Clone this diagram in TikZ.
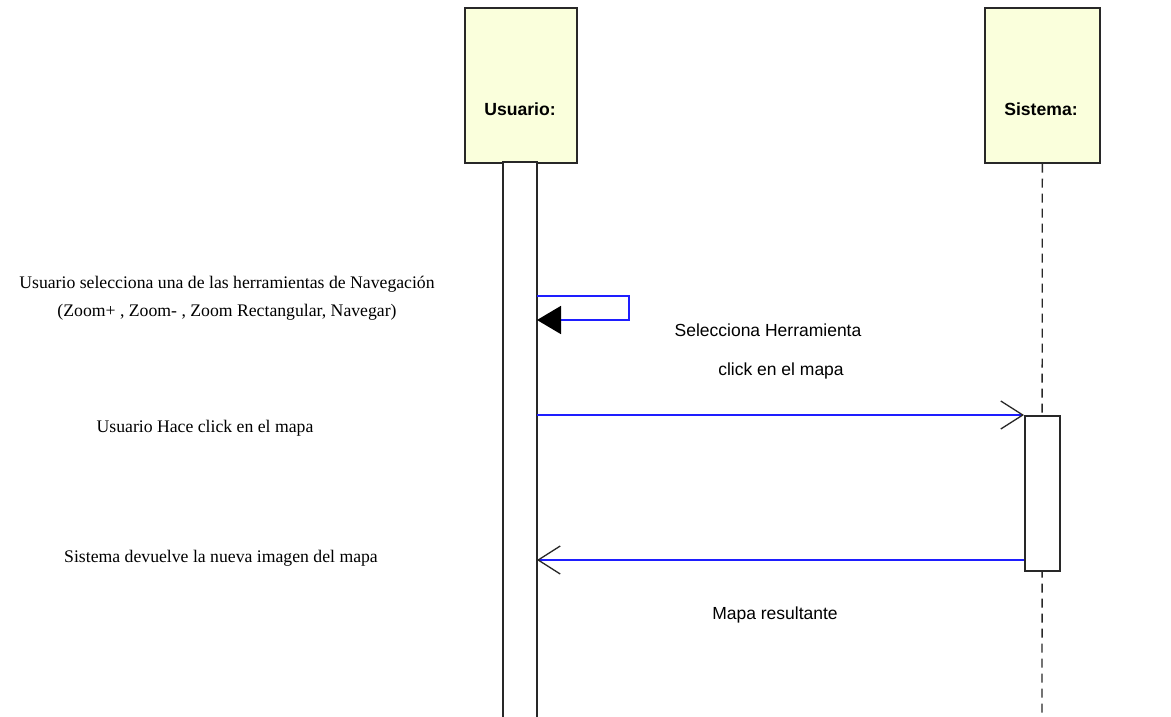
\documentclass[tikz,border=0pt]{standalone}
\usepackage{fontspec}
\setmainfont{Liberation Serif}
\setsansfont{Liberation Sans}
\usetikzlibrary{arrows.meta}
\definecolor{headfill}{RGB}{250,255,220}
\definecolor{msgblue}{RGB}{30,30,255}
\definecolor{edge}{RGB}{40,40,40}
\tikzset{
  x=1pt, y=-1pt,
  lifehead/.style={draw=edge, line width=1.6pt, fill=headfill, minimum width=112pt,
    minimum height=155pt, inner sep=0pt},
  headname/.style={font=\sffamily\bfseries\fontsize{17.6}{20}\selectfont, inner sep=0pt},
  lifeline/.style={draw=edge, line width=1.4pt, dash pattern=on 9pt off 6pt},
  actbar/.style={draw=edge, line width=1.6pt, fill=white},
  msg/.style={draw=msgblue, line width=1.8pt},
  open tip/.style={-{Straight Barb[length=22pt,width=28pt,line width=1.3pt,color=edge]}},
  solid tip/.style={-{Triangle[length=24pt,width=28pt,color=black]}},
  note/.style={font=\fontsize{17.7}{20}\selectfont, align=center, inner sep=0pt},
  label/.style={font=\sffamily\fontsize{17.5}{20}\selectfont, inner sep=0pt}
}
\begin{document}
\begin{tikzpicture}
\useasboundingbox (0,0) rectangle (1171,716);
\fill[white] (0,0) rectangle (1171,716);

% lifeline heads
\node[lifehead, anchor=north west] (usr) at (464,7) {};
\node[lifehead, anchor=north west, minimum width=115pt] (sys) at (984,7) {};
\node[headname] (usrname) at (520,109) {Usuario:};
\node[headname] (sysname) at (1041,109) {Sistema:};

% Sistema dashed lifeline
\coordinate (sysend) at (1042,716);
\draw[lifeline] (sys.south) -- (sysend);

% Usuario activation bar (runs off the bottom edge)
\coordinate (ua1) at (503,162);
\coordinate (ua2) at (537,162);
\coordinate (ua3) at (537,720);
\coordinate (ua4) at (503,720);
\draw[actbar] (ua4) -- (ua1) -- (ua2) -- (ua3);

% Sistema activation bar
\node[actbar, anchor=north west, minimum width=35pt, minimum height=155pt, inner sep=0pt] (sact) at (1024,415) {};

% self message: tool selection
\coordinate (s0) at (537,296);
\coordinate (s1) at (629,296);
\coordinate (s2) at (629,320);
\coordinate (s3) at (537,320);
\draw[msg, solid tip] (s0) -- (s1) -- (s2) -- (s3);

% click on the map
\coordinate (m1) at (537,415);
\draw[msg, open tip] (m1) -- (sact.north west);

% new map image returned
\coordinate (m2) at (537,560);
\draw[msg, open tip] (sact.south west |- m2) -- (m2);

% notes on the left
\node[note] (n1) at (227,298) {Usuario selecciona una de las herramientas de Navegación\\[8pt](Zoom+ , Zoom- , Zoom Rectangular, Navegar)};
\node[note] (n2) at (205,428) {Usuario Hace click en el mapa};
\node[note] (n3) at (221,558) {Sistema devuelve la nueva imagen del mapa};

% message labels
\node[label] (l1) at (768,330) {Selecciona Herramienta};
\node[label] (l2) at (781,371) {click en el mapa};
\node[label] (l3) at (775,615) {Mapa resultante};
\end{tikzpicture}
\end{document}
